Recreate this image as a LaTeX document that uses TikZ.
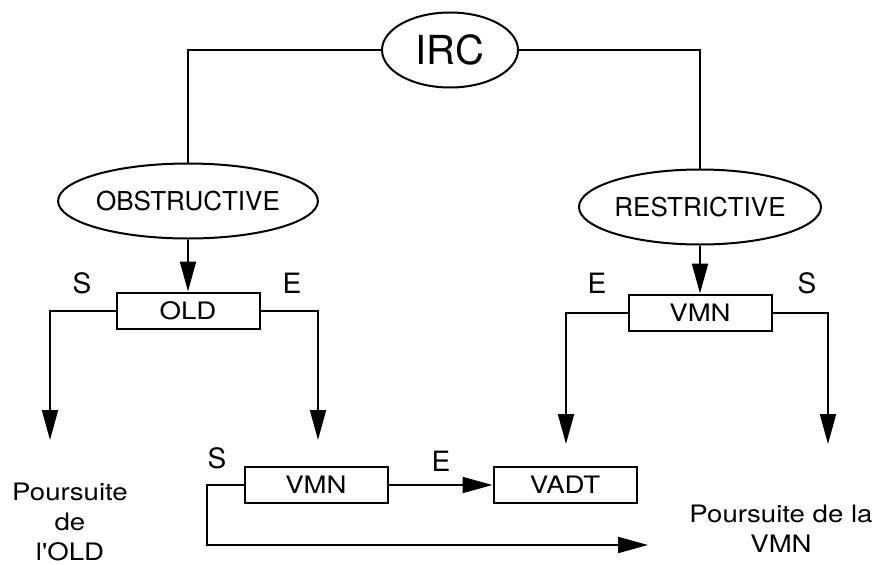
\documentclass[tikz,border=0pt]{standalone}
\usepackage{fontspec}
\setmainfont{TeX Gyre Heros}
\newfontfamily\widefont[FakeStretch=1.15]{TeX Gyre Heros}
\usetikzlibrary{positioning}
\usetikzlibrary{shapes.geometric,arrows.meta}
\tikzset{oval/.style={ellipse,draw,line width=2pt,inner
    sep=0pt,minimum width=242pt,minimum height=75pt,font=\fontsize{26}{30}\selectfont},
    cell/.style={rectangle,draw,line width=2pt,inner
    sep=0pt,minimum width=143pt,minimum height=36pt,font=\widefont\fontsize{24}{28}\selectfont},
    flow/.style={->,>={Triangle[length=30pt,width=16pt]},line width=2pt},
    wire/.style={-,line width=2pt},
    tag/.style={inner sep=0pt,font=\fontsize{28}{32}\selectfont}}

\begin{document}
\begin{tikzpicture}[x=1pt,y=-1pt]
        \useasboundingbox (0,0) rectangle (879,565);
        \node[oval,minimum width=136pt,minimum height=75pt,font=\fontsize{40}{44}\selectfont] (irc) at (450,50) {IRC};
        \node[oval] (obs) at (188,201) {OBSTRUCTIVE};
        \node[oval] (res) at (700,207) {RESTRICTIVE};
        \node[cell,below=52pt of obs] (old) {OLD};
        \node[cell,below=48pt of res] (vmn) {VMN};
        \node[cell] (vmn2) at (316,485) {VMN};
        \node[cell,right=104pt of vmn2] (vadt) {VADT};
        \node[tag] (s1) at (82,283) {S};\node[tag] (e1) at (292,283) {E};
        \node[tag] (e3) at (597,283) {E};\node[tag] (s3) at (807,283) {S};
        \node[tag] (s2) at (217,458) {S};\node[tag] (e2) at (441,461) {E};
        \node[align=center,font=\widefont\fontsize{24}{30}\selectfont] (suiteold) at (70,522) {Poursuite\\de\\l'OLD};
        \node[align=center,font=\widefont\fontsize{24}{30}\selectfont] (suitevmn) at (781,529) {Poursuite de la\\VMN};
        \coordinate (oldS) at (50,440);\coordinate (oldE) at (318,440);
        \coordinate (vmnE) at (566,444);\coordinate (vmnS) at (828,444);
        \coordinate (loop) at (207,545);\coordinate (loopend) at (648,545);
        \draw[wire](irc.west)-|(obs.north);\draw[wire](irc.east)-|(res.north);
        \draw[flow](obs)--(old);\draw[flow](res)--(vmn);
        \draw[flow](old.west)-|(oldS);\draw[flow](old.east)-|(oldE);
        \draw[flow](vmn.west)-|(vmnE);\draw[flow](vmn.east)-|(vmnS);
        \draw[flow](vmn2)--(vadt);
        \draw[flow](vmn2.west)-|(loop)--(loopend);
    \end{tikzpicture}
\end{document}
